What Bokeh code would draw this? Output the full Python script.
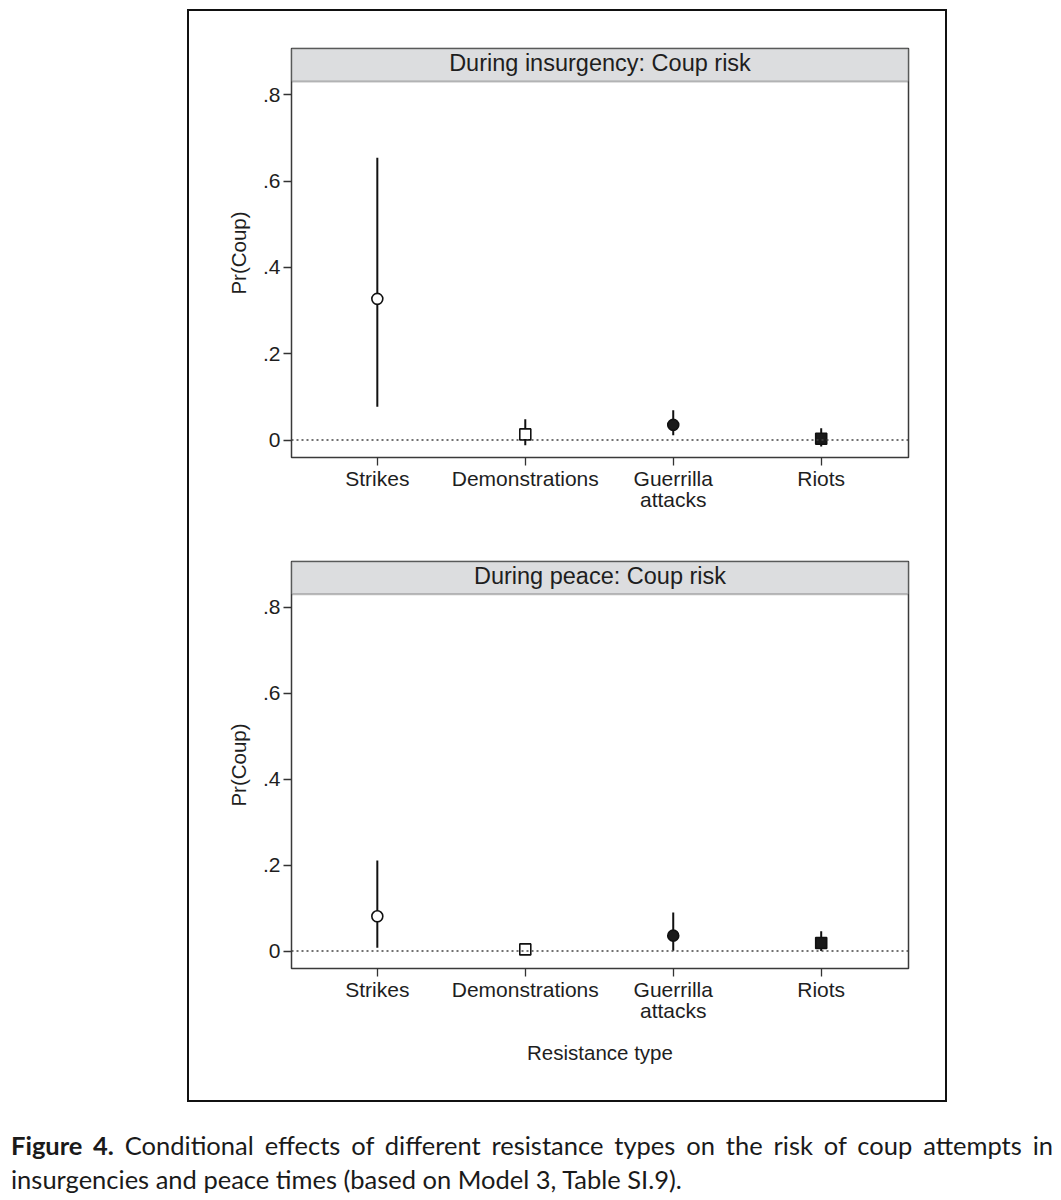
from bokeh.plotting import figure
from bokeh.layouts import column
from bokeh.models import (Div, FixedTicker, Range1d, BoxAnnotation, Label, Span,
                          ColumnDataSource)
from bokeh.embed import file_html
from bokeh.resources import INLINE

# ---------------- data ----------------
categories = ["Strikes", "Demonstrations", "Guerrilla\nattacks", "Riots"]
x_pos = [1, 2, 3, 4]
markers = ["circle", "square", "circle", "square"]
fills = ["white", "white", "#1a1a1a", "#1a1a1a"]

insurgency_est = [0.327, 0.013, 0.035, 0.003]
insurgency_lo = [0.077, -0.012, 0.011, -0.015]
insurgency_hi = [0.654, 0.048, 0.069, 0.027]

peace_est = [0.081, 0.004, 0.036, 0.019]
peace_lo = [0.008, -0.002, 0.001, 0.0]
peace_hi = [0.211, 0.010, 0.090, 0.046]

y_ticks = [0, 0.2, 0.4, 0.6, 0.8]
y_tick_labels = ["0", ".2", ".4", ".6", ".8"]

titles = ["During insurgency: Coup risk", "During peace: Coup risk"]

FONT = "Liberation Sans"
TXT = "#1e1e1e"
X_START, X_END = 0.42, 4.59
Y_START, Y_END = -0.0405, 0.907
HEADER_Y = 0.8305


def panel(title, est, lo, hi, height, border_top, border_bottom, xlabel):
    p = figure(width=756, height=height, output_backend="svg",
               toolbar_location=None, tools="",
               x_range=Range1d(X_START, X_END), y_range=Range1d(Y_START, Y_END),
               min_border_left=102, min_border_right=37,
               min_border_top=border_top, min_border_bottom=border_bottom)
    p.background_fill_color = "white"
    p.border_fill_color = "white"
    p.outline_line_color = "#3a3a3a"
    p.outline_line_width = 1.5
    p.xgrid.visible = False
    p.ygrid.visible = False

    # header strip
    p.add_layout(BoxAnnotation(bottom=HEADER_Y, fill_color="#dcdddf", fill_alpha=1.0,
                               line_color="#2a2a2a", line_width=2, level="underlay"))
    p.add_layout(Label(x=(X_START + X_END) / 2, y=(HEADER_Y + Y_END) / 2,
                       y_offset=2,
                       text=title, text_align="center", text_baseline="middle",
                       text_font=FONT, text_font_size="23.5px", text_color=TXT))

    # dotted zero line
    p.add_layout(Span(location=0, dimension="width", line_color="#444444",
                      line_width=1.5, line_dash="2 3"))

    src = ColumnDataSource(dict(x=x_pos, est=est, lo=lo, hi=hi,
                                marker=markers, fill=fills))
    p.segment(x0="x", y0="lo", x1="x", y1="hi", source=src,
              line_color="#111111", line_width=2)
    p.scatter(x="x", y="est", marker="marker", fill_color="fill", source=src,
              size=11, line_color="#111111", line_width=1.6)

    # axes
    p.xaxis.ticker = FixedTicker(ticks=x_pos)
    p.xaxis.major_label_overrides = {x: c for x, c in zip(x_pos, categories)}
    p.yaxis.ticker = FixedTicker(ticks=y_ticks)
    p.yaxis.major_label_overrides = {t: l for t, l in zip(y_ticks, y_tick_labels)}
    for ax in (p.xaxis[0], p.yaxis[0]):
        ax.axis_line_color = None
        ax.major_tick_in = 0
        ax.major_tick_out = 8
        ax.major_tick_line_color = "#333333"
        ax.major_tick_line_width = 1.3
        ax.minor_tick_line_color = None
        ax.major_label_text_font = FONT
        ax.major_label_text_font_size = "21px"
        ax.major_label_text_color = TXT
        ax.axis_label_text_font = FONT
        ax.axis_label_text_font_size = "20.5px"
        ax.axis_label_text_font_style = "normal"
        ax.axis_label_text_color = TXT
    p.xaxis.major_label_text_line_height = 0.95
    p.xaxis.major_label_standoff = 1
    p.yaxis.major_label_standoff = 3
    p.yaxis.major_label_orientation = "horizontal"
    p.yaxis.axis_label = "Pr(Coup)"
    p.yaxis.axis_label_standoff = 10
    if xlabel:
        p.xaxis.axis_label = xlabel
        p.xaxis.axis_label_standoff = 16
    return p


p1 = panel(titles[0], insurgency_est, insurgency_lo, insurgency_hi,
           height=509, border_top=37, border_bottom=63, xlabel=None)
p2 = panel(titles[1], peace_est, peace_lo, peace_hi,
           height=580, border_top=41, border_bottom=132, xlabel="Resistance type")

box = column(p1, p2, margin=(9, 0, 0, 187), spacing=0,
             styles={"border": "2px solid #111111", "background": "white"})

caption = Div(
    text=("<b>Figure 4.</b> Conditional effects of different resistance types on the "
          "risk of coup attempts in insurgencies and peace times (based on Model 3, "
          "Table SI.9)."),
    width=1042, margin=(26, 0, 0, 11),
    styles={"font-family": "Lato", "font-size": "25.5px", "line-height": "34px",
            "text-align": "justify", "color": "#1a1a1a"})

root = column(box, caption, spacing=0)

html = file_html(root, INLINE)
html = html.replace("<head>", "<head><style>body{margin:0;background:white;}</style>", 1)
open("out.html", "w").write(html)
